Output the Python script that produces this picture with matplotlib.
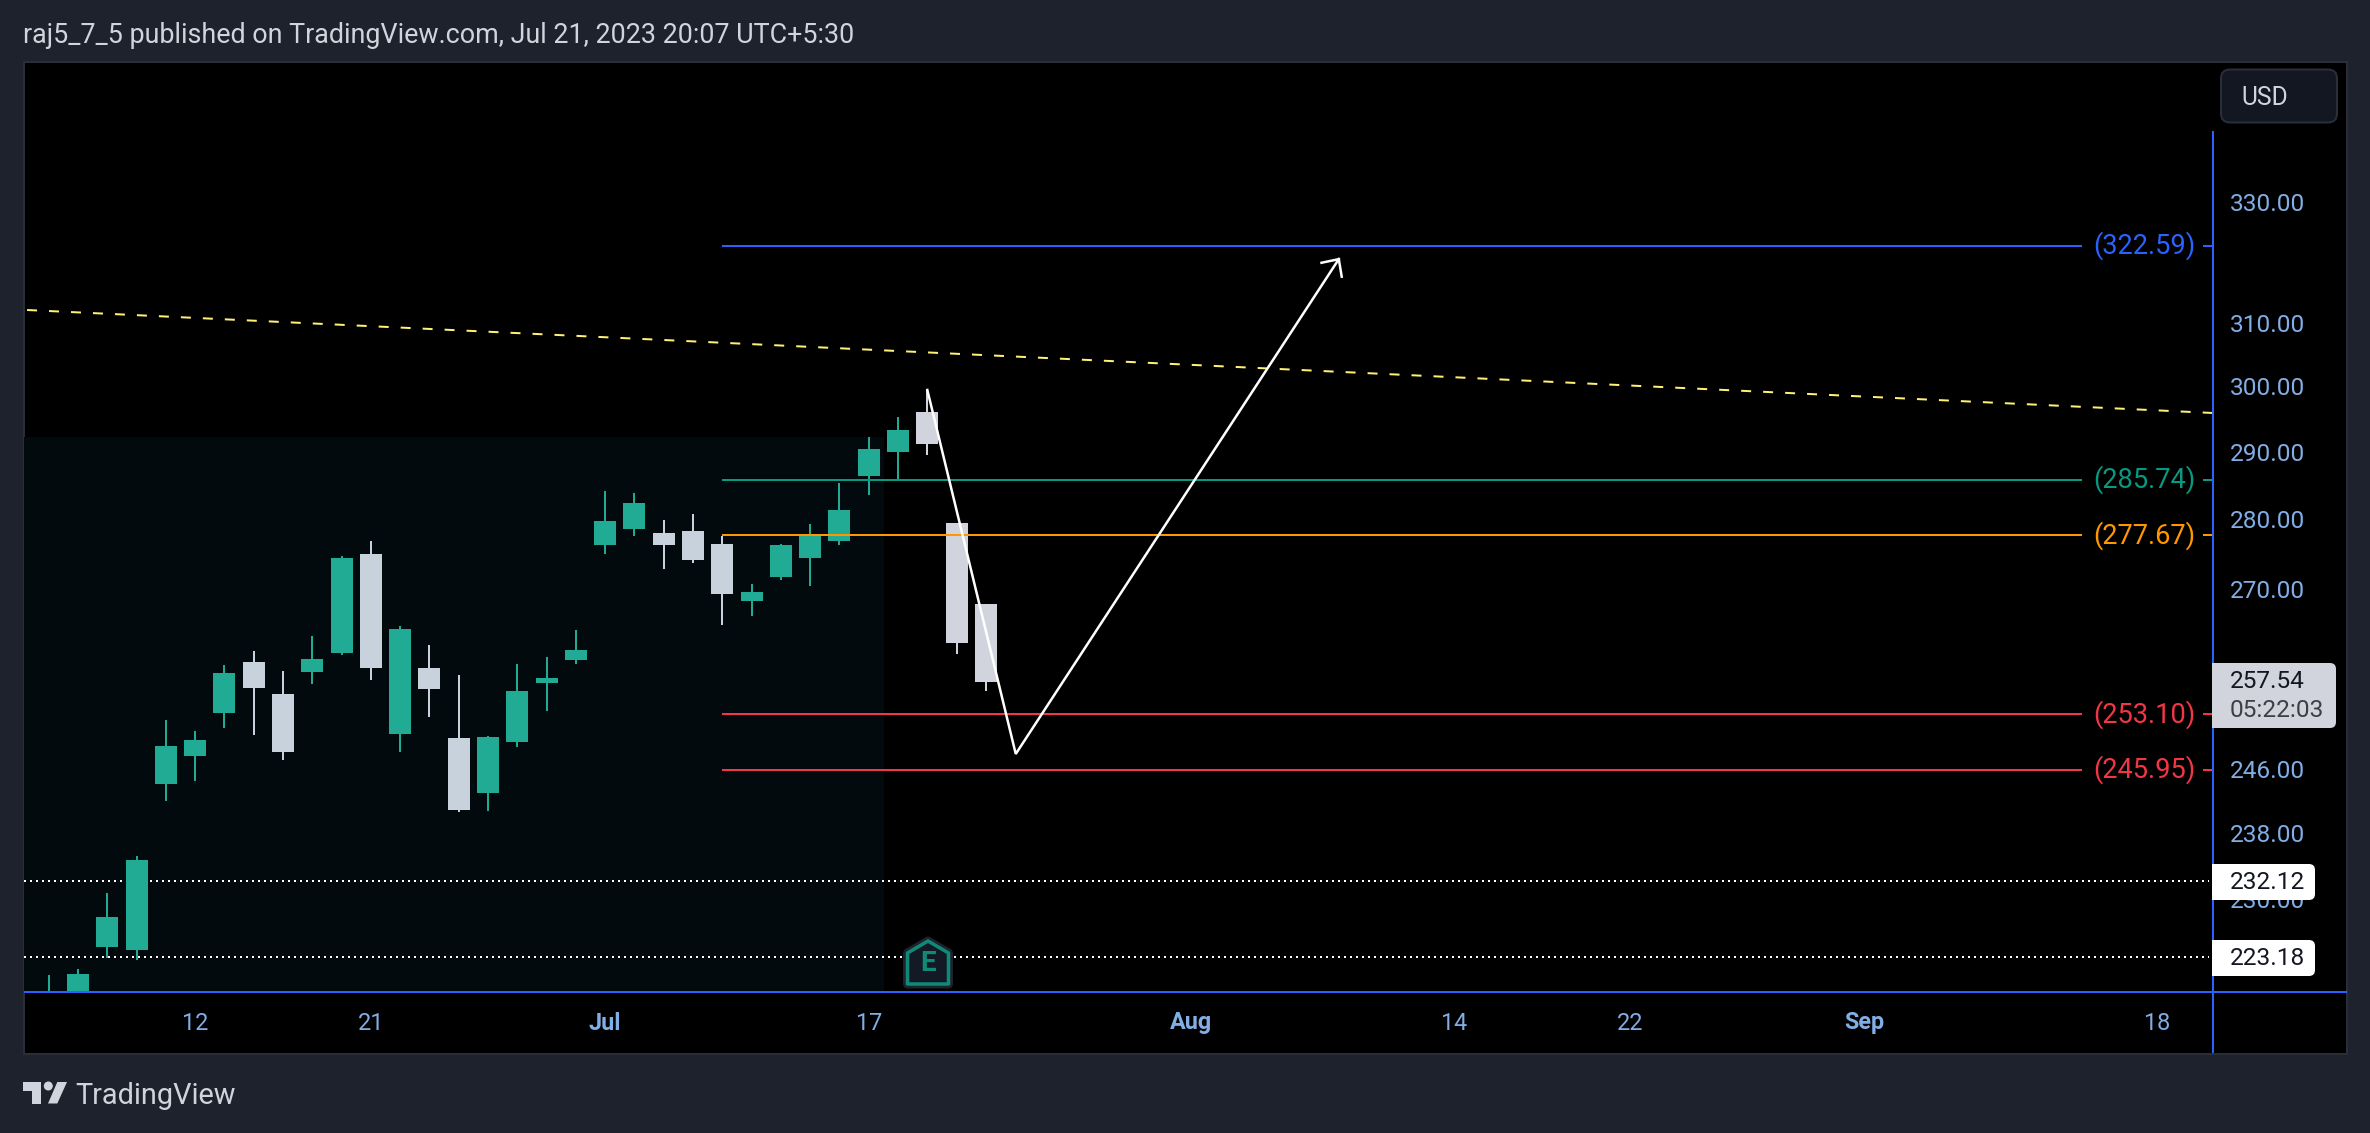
import matplotlib
matplotlib.use("Agg")
import matplotlib.pyplot as plt
from matplotlib.patches import Rectangle, FancyBboxPatch, Polygon, Circle
from matplotlib.ticker import NullFormatter, NullLocator

plt.rcParams['font.family'] = ['Roboto', 'DejaVu Sans']
plt.rcParams['lines.scale_dashes'] = False

# ---------- data ----------
opens = [217.7,217.14,224.38,224.03,244.15,247.72,253.3,260.04,255.76,258.74,261.3,275.01,250.56,259.23,250.0,243.01,249.52,
         257.23,260.31,276.29,278.59,278.02,278.3,276.44,268.39,271.75,274.44,276.87,286.35,289.93,296.0,279.46,267.97]
closes = [218.83,221.22,227.86,234.69,248.97,249.74,258.56,256.6,248.23,260.45,274.44,259.27,264.53,256.47,240.88,250.13,256.16,
          257.89,261.66,279.75,282.37,276.29,274.15,269.37,269.65,276.29,277.87,281.35,290.38,293.26,291.14,262.61,257.36]
highs = [221.11,221.8,230.71,235.17,252.34,250.91,259.64,261.53,258.83,263.57,274.72,276.87,264.94,262.34,258.3,250.26,259.77,
         260.72,264.39,284.13,283.84,279.89,280.77,277.58,270.77,276.44,279.32,285.31,292.19,295.24,299.4,279.46,267.97]
lows = [217.14,216.01,223.1,222.87,241.97,244.49,251.3,250.39,247.17,257.09,260.99,257.63,248.19,252.73,240.6,240.72,248.84,
        253.52,259.77,275.01,277.58,272.88,273.73,265.07,266.31,271.33,270.48,276.29,283.54,285.9,289.48,261.12,256.16]
white_bars = [7,8,11,13,14,21,22,23,30,31,32]
last_bars = [30,31,32]

x_ticks = [5,11,19,28,39,48,54,62,72]
x_labels = ['12','21','Jul','17','Aug','14','22','Sep','18']
x_bold = ['Jul','Aug','Sep']
y_ticks = [330,310,300,290,280,270,246,238,230,222]

level_values = [322.59,285.74,277.67,253.10,245.95]
level_colors = ['#2962FF','#089981','#FF9800','#F23645','#F23645']
dotted_values = [232.12,223.18]

trend_x = [-0.74,73.9]
trend_y = [312.07,295.85]
path_x = [30.0,33.02,44.05]
path_y = [299.4,247.94,320.4]
arrow_left = [43.46,319.8]
arrow_right = [44.15,317.5]

last_price = '257.54'
countdown = '05:22:03'
title = 'raj5_7_5 published on TradingView.com, Jul 21, 2023 20:07 UTC+5:30'

# ---------- layout ----------
W, H = 2370, 1133
BG = '#1E222D'
fig = plt.figure(figsize=(W/100, H/100), dpi=100, facecolor=BG)
px = lambda n: n*0.72

def ax_rect(l, t, r, b):
    return [l/W, 1-b/H, (r-l)/W, (b-t)/H]

# background panel
bg = fig.add_axes([0,0,1,1], zorder=0)
bg.set_xlim(0,W); bg.set_ylim(H,0); bg.axis('off')
bg.add_patch(Rectangle((23.5,61.5),2323,992,fc='black',ec='#2A2E39',lw=px(2)))

# main chart
ax = fig.add_axes(ax_rect(24,62,2213,992), zorder=1)
ax.patch.set_alpha(0)
ax.set_yscale('log')
ax.set_xlim(-0.844,73.9)
ax.set_ylim(219.17,354.86)
for s in ax.spines.values():
    s.set_visible(False)
ax.yaxis.tick_right()
ax.yaxis.set_minor_locator(NullLocator())
ax.yaxis.set_minor_formatter(NullFormatter())
ax.set_yticks(y_ticks)
ax.set_yticklabels([f'{v:.2f}' for v in y_ticks])
ax.tick_params(axis='y', length=0, pad=px(17), labelsize=17.6, labelcolor='#82AEE6')
ax.set_xticks(x_ticks)
ax.set_xticklabels(x_labels)
ax.tick_params(axis='x', length=0, pad=px(19.5), labelsize=16.8, labelcolor='#82AEE6')
for lab in ax.get_xticklabels():
    if lab.get_text() in x_bold:
        lab.set_fontweight('bold')

ax.add_patch(Rectangle((-0.844,219.17),28.52+0.844,292.2-219.17,fc='#030A0D',ec='none',zorder=0.5))

for v in dotted_values:
    ax.plot([-0.844,73.75],[v,v],color='white',lw=px(2),linestyle=(0,(px(2),px(4))),zorder=1)

ax.plot(trend_x,trend_y,color='#FFF176',lw=px(2),linestyle=(0,(px(10),px(12))),zorder=1)

for i,(o,h,l,c) in enumerate(zip(opens,highs,lows,closes)):
    col = '#22AB94' if i not in white_bars else ('#D1D4DC' if i in last_bars else '#C8D2DC')
    ax.vlines(i,l,h,color=col,lw=px(2),zorder=2)
    ax.bar(i,abs(c-o),bottom=min(o,c),width=0.75,color=col,linewidth=0,zorder=2)

for v,col in zip(level_values,level_colors):
    ax.plot([23,69.43],[v,v],color=col,lw=px(2),zorder=3,solid_capstyle='butt')
    ax.plot([73.57,73.9],[v,v],color=col,lw=px(2),zorder=3,solid_capstyle='butt')
    ax.text(71.55,v,f'({v:.2f})',color=col,fontsize=19.6,ha='center',va='center',zorder=3)

ax.plot(path_x,path_y,color='white',lw=px(2.5),zorder=4,solid_joinstyle='miter')
ax.plot([arrow_left[0],path_x[-1],arrow_right[0]],[arrow_left[1],path_y[-1],arrow_right[1]],
        color='white',lw=px(2.5),zorder=4,solid_joinstyle='miter')

# overlay for axis chrome
ov = fig.add_axes([0,0,1,1], zorder=2)
ov.set_xlim(0,W); ov.set_ylim(H,0); ov.axis('off'); ov.patch.set_alpha(0)
BLUE = '#2962FF'
ov.plot([24,2347],[992,992],color=BLUE,lw=px(2),solid_capstyle='butt',zorder=1)
ov.plot([2213,2213],[131,1053],color=BLUE,lw=px(2),solid_capstyle='butt',zorder=1)

def tag(t,b,r,col):
    ov.add_patch(FancyBboxPatch((2212,t),r-2212,b-t,boxstyle='round,pad=0,rounding_size=6',fc=col,ec='none',zorder=2))
    ov.add_patch(Rectangle((2212,t),10,b-t,fc=col,ec='none',zorder=2))

tag(663,728,2336,'#D1D4DC')
ov.text(2230,681.5,last_price,color='#131722',fontsize=17.6,va='center',ha='left',zorder=3)
ov.text(2230,710.5,countdown,color='#3D3F45',fontsize=17.6,va='center',ha='left',zorder=3)
for ty,lab in zip([864,940],dotted_values):
    tag(ty,ty+36,2315,'white')
    ov.text(2230,ty+18.5,f'{lab:.2f}',color='#131722',fontsize=17.6,va='center',ha='left',zorder=3)

# USD button
ov.add_patch(FancyBboxPatch((2221,69.5),116,53,boxstyle='round,pad=0,rounding_size=9',fc='#131722',ec='#2A2E39',lw=px(2),zorder=2))
ov.text(2241,98,'USD',color='#D1D4DC',fontsize=17.7,va='center',ha='left',zorder=3)

# earnings marker
house = [(928,941),(948.5,953),(948.5,984),(907.5,984),(907.5,953)]
ov.add_patch(Polygon(house,closed=True,fc='none',ec='#1E222D',lw=px(9),joinstyle='round',zorder=2))
ov.add_patch(Polygon(house,closed=True,fc='#131A26',ec='#0F8A76',lw=px(3.5),joinstyle='round',zorder=3))
ov.text(928,963.5,'E',color='#0F8A76',fontsize=20,fontweight='bold',ha='center',va='center',zorder=4)

# header
ov.text(23,35.5,title,color='#D1D4DC',fontsize=19.35,va='center',ha='left')

# footer logo
LOGO = '#D1D4DC'
ov.add_patch(Polygon([(22.7,1082),(40.7,1082),(40.7,1103.5),(31.7,1103.5),(31.7,1090.7),(22.7,1090.7)],fc=LOGO,ec='none'))
ov.add_patch(Circle((48.3,1086),4.5,fc=LOGO,ec='none'))
ov.add_patch(Polygon([(57.3,1082),(67,1082),(57.3,1103.5),(48,1103.5)],fc=LOGO,ec='none'))
ov.text(75,1096,'TradingView',color=LOGO,fontsize=20.8,va='center',ha='left')

fig.savefig('out.png',dpi=100,facecolor=BG)
